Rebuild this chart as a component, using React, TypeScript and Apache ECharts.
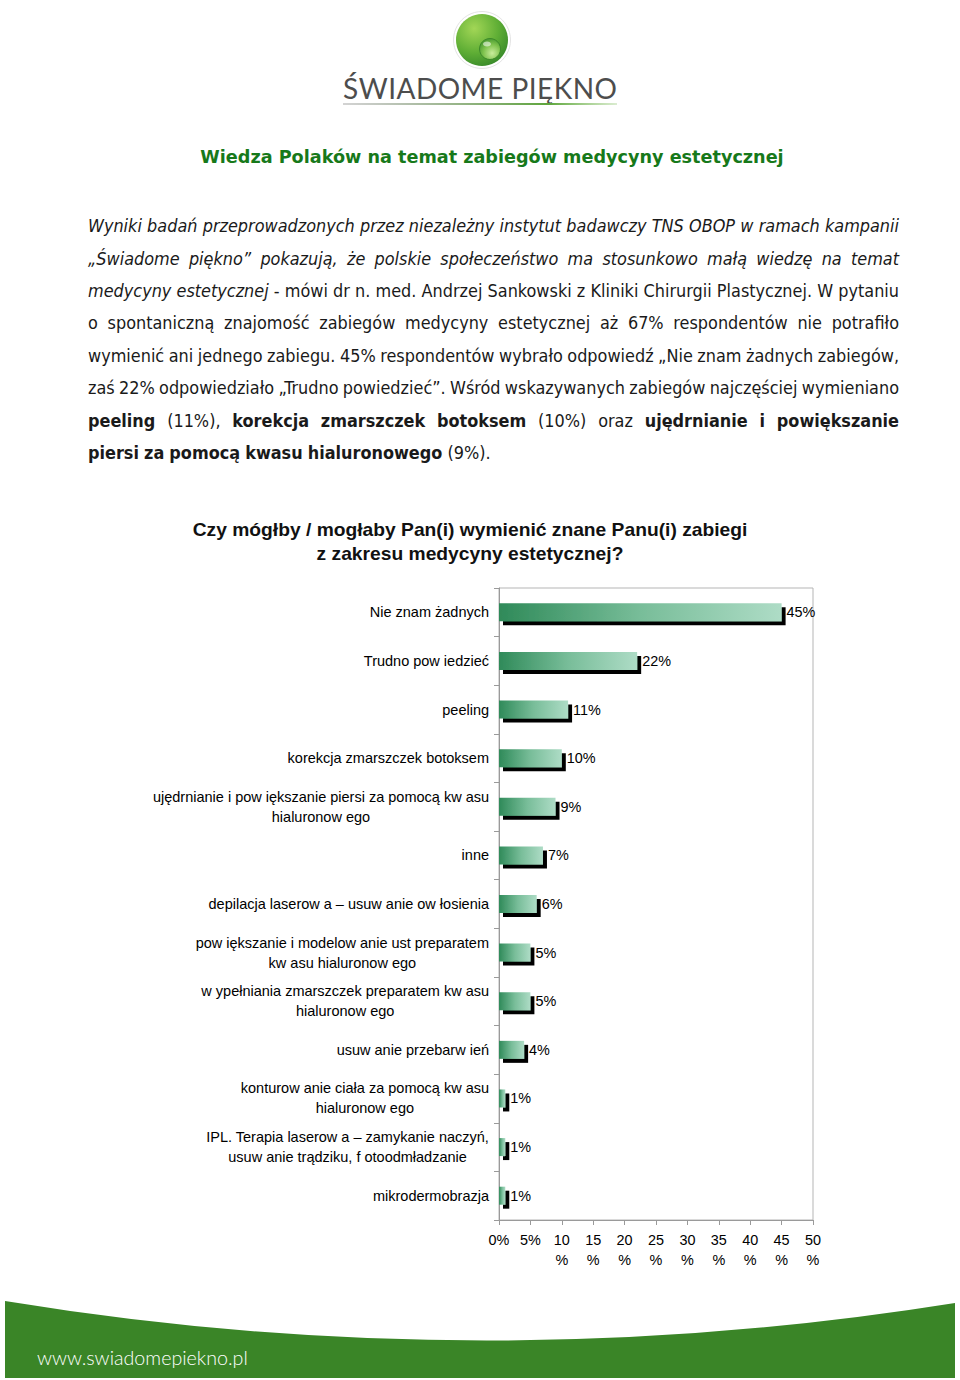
import React, { useEffect, useRef } from 'react';
import * as echarts from 'echarts';

const categories = [
  'Nie znam żadnych',
  'Trudno pow iedzieć',
  'peeling',
  'korekcja zmarszczek botoksem',
  'ujędrnianie i pow iększanie piersi za pomocą kw asu\nhialuronow ego',
  'inne',
  'depilacja laserow a – usuw anie ow łosienia',
  'pow iększanie i modelow anie ust preparatem\nkw asu hialuronow ego',
  'w ypełniania zmarszczek preparatem kw asu\nhialuronow ego',
  'usuw anie przebarw ień',
  'konturow anie ciała za pomocą kw asu\nhialuronow ego',
  'IPL. Terapia laserow a – zamykanie naczyń,\nusuw anie trądziku, f otoodmładzanie',
  'mikrodermobrazja',
];
const values = [45, 22, 11, 10, 9, 7, 6, 5, 5, 4, 1, 1, 1];
const xTickLabels = ['0%', '5%', '10\n%', '15\n%', '20\n%', '25\n%', '30\n%', '35\n%', '40\n%', '45\n%', '50\n%'];

const pageTitle = 'Wiedza Polaków na temat zabiegów medycyny estetycznej';
const chartTitleLines = [
  'Czy mógłby / mogłaby Pan(i) wymienić znane Panu(i) zabiegi',
  'z zakresu medycyny estetycznej?',
];
const logoText = 'ŚWIADOME PIĘKNO';
const footerText = 'www.swiadomepiekno.pl';

// paragraph lines: [style, text] ; i = italic, n = normal, b = bold
const paragraphLines: [string, string][][] = [
  [['i', 'Wyniki badań przeprowadzonych przez niezależny instytut badawczy TNS OBOP w ramach kampanii']],
  [['i', '„Świadome piękno” pokazują, że polskie społeczeństwo ma stosunkowo małą wiedzę na temat']],
  [['i', 'medycyny estetycznej'], ['n', '- mówi dr n. med. Andrzej Sankowski z Kliniki Chirurgii Plastycznej. W pytaniu']],
  [['n', 'o spontaniczną znajomość zabiegów medycyny estetycznej aż 67% respondentów nie potrafiło']],
  [['n', 'wymienić ani jednego zabiegu. 45% respondentów wybrało odpowiedź „Nie znam żadnych zabiegów,']],
  [['n', 'zaś 22% odpowiedziało „Trudno powiedzieć”. Wśród wskazywanych zabiegów najczęściej wymieniano']],
  [['b', 'peeling'], ['n', '(11%),'], ['b', 'korekcja zmarszczek botoksem'], ['n', '(10%) oraz'], ['b', 'ujędrnianie i powiększanie']],
  [['b', 'piersi za pomocą kwasu hialuronowego'], ['n', '(9%).']],
];
const paragraphY = [225, 258, 290, 322, 355, 387, 420, 452];

const PFONT = 'DejaVu Sans Condensed';

let measureCtx: CanvasRenderingContext2D | null = null;
function measure(text: string, font: string): number {
  if (!measureCtx) measureCtx = document.createElement('canvas').getContext('2d');
  measureCtx!.font = font;
  return measureCtx!.measureText(text).width;
}
function fontStr(st: string, size: number, family: string) {
  const style = st === 'i' ? 'italic' : 'normal';
  const weight = st === 'b' ? 'bold' : 'normal';
  return `${style} ${weight} ${size}px "${family}"`;
}

echarts.graphic.registerShape(
  'footerWave',
  echarts.graphic.extendPath('M5 1301 Q480 1379 955 1303 L955 1378 L5 1378 Z', {})
);

function buildParagraph(): any[] {
  const left = 88;
  const right = 899;
  const W = right - left;
  const last = paragraphLines[7];
  let w100 = 0;
  last.forEach(([st, t], i) => {
    w100 += measure(t, fontStr(st, 100, PFONT));
    if (i > 0) w100 += measure(' ', fontStr('n', 100, PFONT));
  });
  const size = Math.min(18, (100 * 405) / w100);
  const els: any[] = [];
  paragraphLines.forEach((line, li) => {
    const words: { w: string; st: string; width: number }[] = [];
    line.forEach(([st, t]) => {
      t.split(/\s+/).filter(Boolean).forEach((w) => {
        words.push({ w, st, width: measure(w, fontStr(st, size, PFONT)) });
      });
    });
    const total = words.reduce((a, b) => a + b.width, 0);
    const justified = li < paragraphLines.length - 1;
    const space = measure(' ', fontStr('n', size, PFONT));
    const gap = justified ? Math.max(space * 0.6, (W - total) / (words.length - 1)) : space;
    let x = left;
    words.forEach((wd) => {
      els.push({
        type: 'text',
        x,
        y: paragraphY[li],
        style: {
          text: wd.w,
          fill: '#1a1a1a',
          fontFamily: PFONT,
          fontSize: size,
          fontStyle: wd.st === 'i' ? 'italic' : 'normal',
          fontWeight: wd.st === 'b' ? 'bold' : 'normal',
          textAlign: 'left',
          textVerticalAlign: 'middle',
        },
      });
      x += wd.width + gap;
    });
  });
  return els;
}

function buildLogo(): any[] {
  const els: any[] = [];
  const cx = 482;
  const cy = 40;
  els.push({
    type: 'circle',
    shape: { cx, cy, r: 28.5 },
    style: { fill: '#ffffff', stroke: '#e4e4e4', lineWidth: 1 },
  });
  els.push({
    type: 'circle',
    shape: { cx, cy, r: 26 },
    style: {
      fill: new echarts.graphic.RadialGradient(0.35, 0.28, 0.85, [
        { offset: 0, color: '#a2d656' },
        { offset: 0.55, color: '#5fae35' },
        { offset: 1, color: '#2f8227' },
      ]),
    },
  });
  els.push({
    type: 'circle',
    shape: { cx: cx + 8, cy: cy + 9, r: 10.5 },
    style: {
      fill: new echarts.graphic.RadialGradient(0.6, 0.7, 0.7, [
        { offset: 0, color: '#c9ec9c' },
        { offset: 0.6, color: '#7ec24d' },
        { offset: 1, color: '#4a9a31' },
      ]),
      stroke: '#3d8a2a',
      lineWidth: 1,
    },
  });
  els.push({
    type: 'ellipse',
    shape: { cx: cx + 5, cy: cy + 4, rx: 4, ry: 2.5 },
    style: { fill: 'rgba(255,255,255,0.55)' },
  });
  const family = 'Lato';
  const size = 28;
  const font = `normal normal ${size}px "${family}"`;
  const chars = logoText.split('');
  const widths = chars.map((c) => measure(c, font));
  const total = widths.reduce((a, b) => a + b, 0);
  const left = 343;
  const right = 617;
  const sp = Math.max(0, (right - left - total) / (chars.length - 1));
  let x = left;
  chars.forEach((c, i) => {
    els.push({
      type: 'text',
      x,
      y: 88,
      style: {
        text: c,
        fill: '#4d4d4d',
        fontFamily: family,
        fontWeight: 'normal',
        fontSize: size,
        textAlign: 'left',
        textVerticalAlign: 'middle',
      },
    });
    x += widths[i] + sp;
  });
  els.push({
    type: 'rect',
    shape: { x: 343, y: 103, width: 274, height: 2 },
    style: {
      fill: new echarts.graphic.LinearGradient(0, 0, 1, 0, [
        { offset: 0, color: 'rgba(130,130,130,0.35)' },
        { offset: 0.4, color: 'rgba(110,150,90,0.7)' },
        { offset: 0.75, color: '#5ea63c' },
        { offset: 1, color: 'rgba(110,180,70,0.25)' },
      ]),
    },
  });
  return els;
}

export default function App() {
  const ref = useRef<HTMLDivElement>(null);
  useEffect(() => {
    document.body.style.margin = '0';
    const chart = echarts.init(ref.current!, null, { renderer: 'svg' });

    const titleFamily = 'DejaVu Sans';
    const titleSize = Math.min(22, (100 * 584) / measure(pageTitle, `normal bold 100px "${titleFamily}"`));
    const ctFamily = 'Liberation Sans';
    const ctSize = Math.min(20, (100 * 555) / measure(chartTitleLines[0], `normal bold 100px "${ctFamily}"`));
    const footFamily = 'Lato';
    const footSize = Math.min(22, (100 * 211) / measure(footerText, `normal 300 100px "${footFamily}"`));

    const graphics: any[] = [
      ...buildLogo(),
      {
        type: 'text',
        x: 492,
        y: 157,
        style: {
          text: pageTitle,
          fill: '#17791a',
          fontFamily: titleFamily,
          fontWeight: 'bold',
          fontSize: titleSize,
          textAlign: 'center',
          textVerticalAlign: 'middle',
        },
      },
      ...buildParagraph(),
      ...chartTitleLines.map((t, i) => ({
        type: 'text',
        x: 470,
        y: 529 + i * 24,
        style: {
          text: t,
          fill: '#111111',
          fontFamily: ctFamily,
          fontWeight: 'bold',
          fontSize: ctSize,
          textAlign: 'center',
          textVerticalAlign: 'middle',
        },
      })),
      {
        type: 'footerWave',
        x: 0,
        y: 0,
        style: { fill: '#3a8527' },
      },
      {
        type: 'text',
        x: 37,
        y: 1357,
        style: {
          text: footerText,
          fill: '#ffffff',
          fontFamily: footFamily,
          fontWeight: 300,
          fontSize: footSize,
          textAlign: 'left',
          textVerticalAlign: 'middle',
        },
      },
    ];

    const option: any = {
      animation: false,
      backgroundColor: '#ffffff',
      graphic: graphics,
      grid: {
        left: 499,
        right: 147,
        top: 588,
        bottom: 160,
        show: true,
        borderColor: '#b5b5b5',
        borderWidth: 1,
        containLabel: false,
      },
      xAxis: {
        type: 'value',
        min: 0,
        max: 50,
        interval: 5,
        splitLine: { show: false },
        axisLine: { show: true, lineStyle: { color: '#9a9a9a' } },
        axisTick: { show: true, length: 5, lineStyle: { color: '#9a9a9a' } },
        axisLabel: {
          margin: 10,
          color: '#000',
          fontFamily: 'Liberation Sans',
          fontSize: 14.4,
          lineHeight: 20,
          formatter: (v: number) => xTickLabels[Math.round(v / 5)] ?? '',
        },
      },
      yAxis: {
        type: 'category',
        inverse: true,
        data: categories,
        axisLine: { show: true, lineStyle: { color: '#9a9a9a' } },
        axisTick: { show: true, length: 5, lineStyle: { color: '#9a9a9a' } },
        axisLabel: {
          margin: 10,
          interval: 0,
          formatter: (v: string) => v.split('\n').map((l) => `{c|${l}}`).join('\n'),
          rich: {
            c: {
              align: 'center',
              color: '#000',
              fontFamily: 'Liberation Sans',
              fontSize: 14.5,
              lineHeight: 20,
            },
          },
        },
      },
      series: [
        {
          type: 'bar',
          data: values,
          barWidth: 18,
          itemStyle: {
            color: new echarts.graphic.LinearGradient(0, 0, 1, 0, [
              { offset: 0, color: '#2f8a59' },
              { offset: 0.5, color: '#78bd99' },
              { offset: 1, color: '#aedcc6' },
            ]),
            shadowColor: '#000000',
            shadowOffsetX: 4,
            shadowOffsetY: 4,
            shadowBlur: 0,
          },
          label: {
            show: true,
            position: 'right',
            distance: 5,
            formatter: '{c}%',
            color: '#000',
            fontFamily: 'Liberation Sans',
            fontSize: 14.4,
          },
        },
      ],
    };
    chart.setOption(option);
    return () => chart.dispose();
  }, []);
  return <div ref={ref} style={{ width: 960, height: 1380 }} />;
}
